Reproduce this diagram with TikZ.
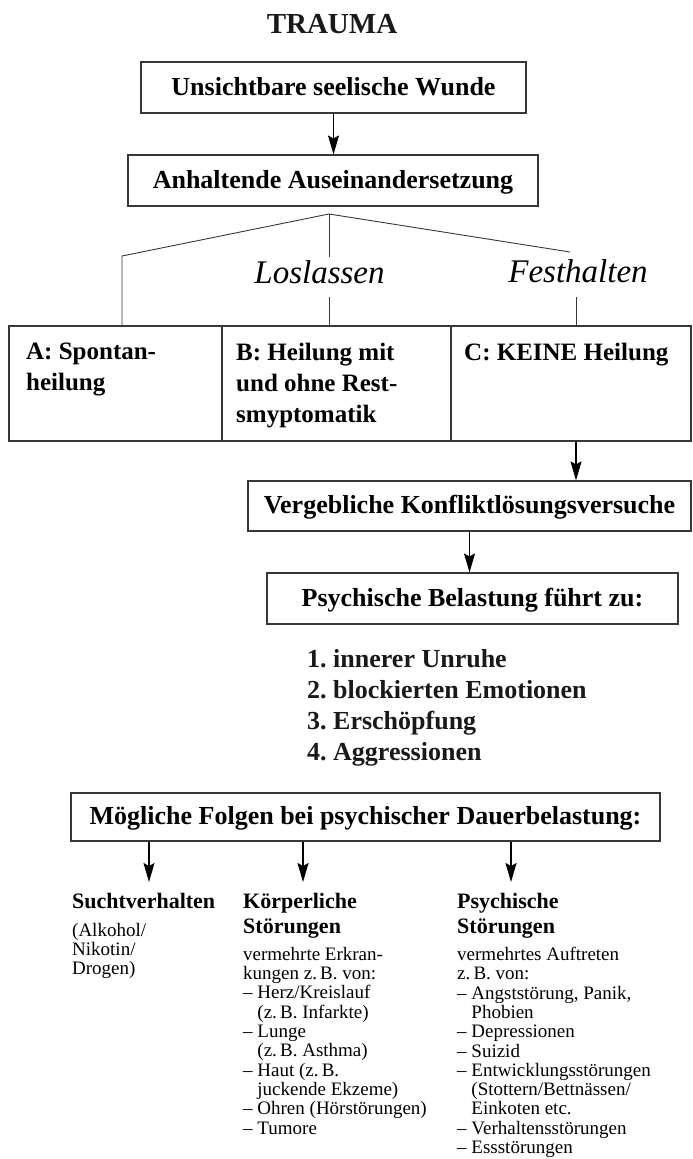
\documentclass[tikz,border=0pt]{standalone}
\usepackage{fontspec}
\setmainfont{Liberation Serif}
\usetikzlibrary{arrows.meta}
\frenchspacing

\newcommand{\dashind}{\hphantom{–\ }}

\begin{document}
\begin{tikzpicture}[x=1pt,y=-1pt,
  box/.style={draw=cLine,line width=1.1pt,inner sep=0pt,text height=17pt,text depth=2pt,
    font=\bfseries\fontsize{26}{31}\selectfont},
  cell/.style={draw=cLine,line width=1.1pt,inner sep=0pt,minimum height=115pt},
  celltext/.style={anchor=north west,inner sep=0pt,align=left,
    font=\bfseries\fontsize{25}{31}\selectfont},
  branch/.style={draw=cLine,line width=0.9pt},
  arr/.style={-{Stealth[length=19pt,width=11pt,inset=3pt]},line width=1.5pt},
  choice/.style={anchor=base,inner sep=2.5pt,font=\itshape\fontsize{33}{36}\selectfont},
  head/.style={anchor=north west,inner sep=0pt,align=left,
    font=\bfseries\fontsize{22}{25}\selectfont},
  small/.style={anchor=north west,inner sep=0pt,align=left,
    font=\fontsize{19}{19.3}\selectfont}]
  \definecolor{cLine}{RGB}{55,55,55}
  \definecolor{cText}{RGB}{25,25,25}

  \useasboundingbox (0,0) rectangle (693,1159);

  % title
  \node[anchor=base,text=cText,font=\bfseries\fontsize{29}{32}\selectfont] (title) at (332,33) {TRAUMA};

  % --- upper chain ---
  \node[box,minimum width=385pt,minimum height=51pt] (wunde) at (333.5,87.5)
    {Unsichtbare seelische Wunde};
  \node[box,minimum width=410pt,minimum height=51pt] (ausein) at (333,180.5)
    {Anhaltende Auseinandersetzung};
  \draw[arr] (wunde.south) -- (wunde.south |- ausein.north);

  % --- three outcomes ---
  \node[cell,minimum width=213pt] (cellA) at (115.5,383.5) {};
  \node[cell,minimum width=229pt] (cellB) at (336.5,383.5) {};
  \node[cell,minimum width=240pt] (cellC) at (571,383.5) {};
  \node[celltext] (txtA) at (26,343) {A: Spontan-\\heilung};
  \node[celltext] (txtB) at (236,343) {B: Heilung mit\\und ohne Rest-\\smyptomatik};
  \node[celltext] (txtC) at (464,343) {C: KEINE Heilung};

  % branch lines
  \node[choice] (los) at (319.5,283) {Loslassen};
  \node[choice] (fest) at (578,282) {Festhalten};
  \coordinate (apex) at (329,214);
  \coordinate (lknee) at (122,256);
  \coordinate (rknee) at (570,252);
  \coordinate (lmid) at (329,297);
  \coordinate (rmid) at (576,297);
  \draw[branch] (apex) -- (lknee) -- (lknee |- cellA.north);
  \draw[branch] (apex) -- (rknee);
  \draw[branch] (apex) -- (apex |- los.north);
  \draw[branch] (lmid) -- (lmid |- cellB.north);
  \draw[branch] (rmid) -- (rmid |- cellC.north);

  % --- lower chain ---
  \node[box,minimum width=443pt,minimum height=50pt] (vergeb) at (469.5,506)
    {Vergebliche Konfliktlösungsversuche};
  \node[box,minimum width=411pt,minimum height=51pt] (belast) at (472.5,598.5)
    {Psychische Belastung führt zu:};
  \draw[arr] (cellC.south -| rmid) -- (rmid |- vergeb.north);
  \draw[arr] (vergeb.south) -- (vergeb.south |- belast.north);

  \node[anchor=north west,inner sep=0pt,align=left,text=cText,
    font=\bfseries\fontsize{26}{31}\selectfont] (liste) at (307,649.5)
    {1. innerer Unruhe\\2. blockierten Emotionen\\3. Erschöpfung\\4. Aggressionen};

  \node[box,minimum width=589pt,minimum height=48pt] (folgen) at (365.5,817)
    {Mögliche Folgen bei psychischer Dauerbelastung:};

  % --- consequences ---
  \coordinate (aSucht) at (149,882);
  \coordinate (aKoerp) at (303,882);
  \coordinate (aPsych) at (511,882);
  \draw[arr] (folgen.south -| aSucht) -- (aSucht);
  \draw[arr] (folgen.south -| aKoerp) -- (aKoerp);
  \draw[arr] (folgen.south -| aPsych) -- (aPsych);

  \node[head] (hSucht) at (72,893) {Suchtverhalten};
  \node[head] (hKoerp) at (243,893) {Körperliche\\Störungen};
  \node[head] (hPsych) at (457,893) {Psychische\\Störungen};

  \node[small] (bSucht) at (72,923) {(Alkohol/\\Nikotin/\\Drogen)};
  \node[small] (bKoerp) at (243,947)
    {vermehrte Erkran-\\kungen z.\,B. von:\\– Herz/Kreislauf\\\dashind(z.\,B. Infarkte)\\
     – Lunge\\\dashind(z.\,B. Asthma)\\– Haut (z.\,B.\\\dashind juckende Ekzeme)\\
     – Ohren (Hörstörungen)\\– Tumore};
  \node[small] (bPsych) at (457,947)
    {vermehrtes Auftreten\\z.\,B. von:\\– Angststörung, Panik,\\\dashind Phobien\\
     – Depressionen\\– Suizid\\– Entwicklungsstörungen\\\dashind(Stottern/Bettnässen/\\
     \dashind Einkoten etc.\\– Verhaltensstörungen\\– Essstörungen};
\end{tikzpicture}
\end{document}
